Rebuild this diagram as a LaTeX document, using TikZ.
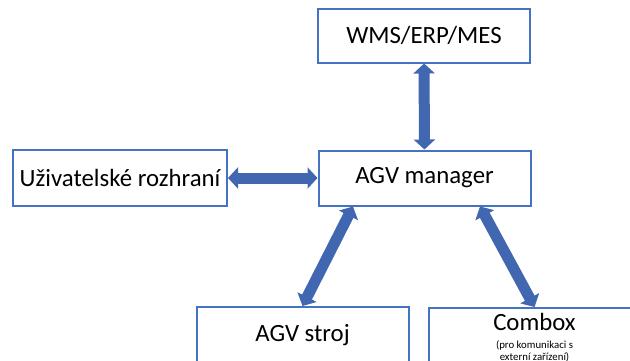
\documentclass[tikz,border=0pt]{standalone}
\usepackage{fontspec}
\setmainfont{Carlito}
\usetikzlibrary{arrows.meta}
\definecolor{boxblue}{HTML}{4472C4}
\definecolor{arrowblue}{HTML}{4167B1}
\tikzset{
  blok/.style={draw=boxblue, line width=1pt, fill=white, minimum width=106pt, minimum height=28pt, inner sep=2pt, font=\fontsize{12.4}{14}\selectfont},
  pozn/.style={align=center, inner sep=0pt, font=\fontsize{5.4}{6.2}\selectfont},
  spoj/.style={arrowblue, line width=5.5pt, {Triangle[width=10.5pt,length=5pt]}-{Triangle[width=10.5pt,length=5pt]}}
}
\begin{document}
\begin{tikzpicture}[x=0.5pt,y=0.5pt]
\useasboundingbox (0,0) rectangle (630,360);
\clip (0,0) rectangle (630,360);
\node[blok, minimum height=27pt] (wms) at (424,324.5) {WMS/ERP/MES};
\node[blok, minimum width=107pt] (ui) at (120,182) {Uživatelské rozhraní};
\node[blok, minimum height=27.5pt] (mgr) at (424.5,182) {AGV manager};
\node[blok] (stroj) at (302.5,25) {AGV stroj};
\node[blok, anchor=north, inner ysep=2.5pt, text height=8.6pt, text depth=30pt] (combox) at (534.5,53) {Combox};
\node[pozn] (popis) at (534.5,9) {(pro komunikaci s\\externí zařízení)};
\draw[spoj] (wms) -- (mgr);
\draw[spoj] (ui) -- (mgr);
\draw[spoj] ([xshift=-35.75pt]mgr.south) -- (stroj.north);
\draw[spoj] ([xshift=27.75pt]mgr.south) -- (combox.north);
\end{tikzpicture}
\end{document}
